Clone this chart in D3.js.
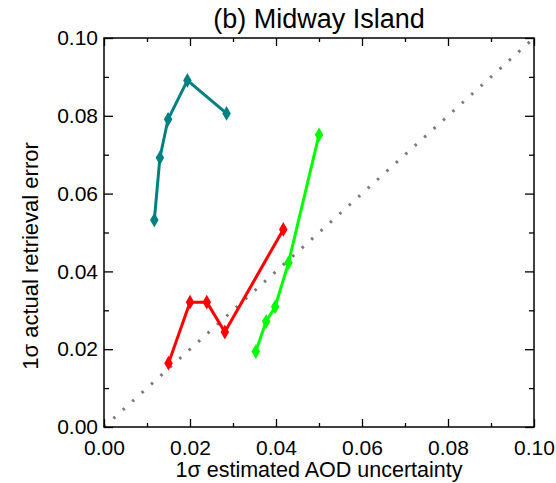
<!DOCTYPE html>
<html><head><meta charset="utf-8">
<script src="https://cdn.jsdelivr.net/npm/d3@7"></script>
<style>body{margin:0;background:#fff}svg{display:block}text{font-family:"Liberation Sans",Arial,sans-serif;fill:#000}</style>
</head><body>
<svg id="c" width="556" height="483"></svg>
<script>
const tealX = [0.0117, 0.0130, 0.0149, 0.0194, 0.0285];
const tealY = [0.0532, 0.0692, 0.0791, 0.0891, 0.0806];
const redX = [0.0150, 0.0200, 0.0239, 0.0281, 0.0417];
const redY = [0.0164, 0.0321, 0.0321, 0.0244, 0.0508];
const greenX = [0.0353, 0.0377, 0.0398, 0.0429, 0.0500];
const greenY = [0.0194, 0.0271, 0.0309, 0.0422, 0.0751];
const majorTicks = [0, 0.02, 0.04, 0.06, 0.08, 0.10];
const minorTicks = [0.01, 0.03, 0.05, 0.07, 0.09];
const title = "(b) Midway Island";
const xLabel = "1σ estimated AOD uncertainty";
const yLabel = "1σ actual retrieval error";

(function(){
const svg = d3.select("#c");
const L = 104, R = 534, T = 38, B = 427;
const x = d3.scaleLinear().domain([0, 0.1]).range([L, R]);
const y = d3.scaleLinear().domain([0, 0.1]).range([B, T]);
const fmt = d3.format(".2f");

// diagonal 1:1 line
svg.append("line").attr("x1", x(0)).attr("y1", y(0)).attr("x2", x(0.1)).attr("y2", y(0.1))
  .attr("stroke", "#7a7a7a").attr("stroke-width", 3).attr("stroke-dasharray", "2.5 10.2");

// axes
const axBottom = d3.axisBottom(x).tickValues(majorTicks).tickSize(-8).tickFormat(fmt).tickPadding(13);
const axBottomMinor = d3.axisBottom(x).tickValues(minorTicks).tickSize(-4).tickFormat("");
const axTop = d3.axisTop(x).tickValues(majorTicks).tickSize(-8).tickFormat("");
const axTopMinor = d3.axisTop(x).tickValues(minorTicks).tickSize(-4).tickFormat("");
const axLeft = d3.axisLeft(y).tickValues(majorTicks).tickSize(-9).tickFormat(fmt).tickPadding(6);
const axLeftMinor = d3.axisLeft(y).tickValues(minorTicks).tickSize(-5).tickFormat("");
const axRight = d3.axisRight(y).tickValues(majorTicks).tickSize(-9).tickFormat("");
const axRightMinor = d3.axisRight(y).tickValues(minorTicks).tickSize(-5).tickFormat("");

function styleAxis(g){
  g.select(".domain").remove();
  g.selectAll("line").attr("stroke", "#000").attr("stroke-width", 1.3);
  g.selectAll("text").attr("font-size", 21).attr("fill", "#000").style("font-family", '"Liberation Sans",Arial,sans-serif');
}
svg.append("g").attr("transform", `translate(0,${B})`).call(axBottom).call(styleAxis);
svg.append("g").attr("transform", `translate(0,${B})`).call(axBottomMinor).call(styleAxis);
svg.append("g").attr("transform", `translate(0,${T})`).call(axTop).call(styleAxis);
svg.append("g").attr("transform", `translate(0,${T})`).call(axTopMinor).call(styleAxis);
svg.append("g").attr("transform", `translate(${L},0)`).call(axLeft).call(styleAxis);
svg.append("g").attr("transform", `translate(${L},0)`).call(axLeftMinor).call(styleAxis);
svg.append("g").attr("transform", `translate(${R},0)`).call(axRight).call(styleAxis);
svg.append("g").attr("transform", `translate(${R},0)`).call(axRightMinor).call(styleAxis);

svg.append("rect").attr("x", L).attr("y", T).attr("width", R - L).attr("height", B - T)
  .attr("fill", "none").attr("stroke", "#000").attr("stroke-width", 1.5);

// series
const series = [
  {xs: tealX, ys: tealY, color: "#008080"},
  {xs: redX, ys: redY, color: "#ff0000"},
  {xs: greenX, ys: greenY, color: "#00ff00"}
];
const line = d3.line().x(d => x(d[0])).y(d => y(d[1]));
const diamond = d3.symbol().type(d3.symbolDiamond).size(40);
series.forEach(s => {
  const pts = s.xs.map((v, i) => [v, s.ys[i]]);
  svg.append("path").datum(pts).attr("d", line).attr("fill", "none")
    .attr("stroke", s.color).attr("stroke-width", 3).attr("stroke-linejoin", "round");
  svg.append("g").selectAll("path").data(pts).join("path")
    .attr("transform", d => `translate(${x(d[0])},${y(d[1])})`)
    .attr("d", diamond).attr("fill", s.color).attr("stroke", s.color).attr("stroke-width", 1.5);
});

// labels
svg.append("text").attr("x", (L + R) / 2).attr("y", 28).attr("text-anchor", "middle")
  .attr("font-size", 27).text(title);
svg.append("text").attr("x", (L + R) / 2).attr("y", 477).attr("text-anchor", "middle")
  .attr("font-size", 21.5).text(xLabel);
svg.append("text").attr("transform", "translate(38,256) rotate(-90)").attr("text-anchor", "middle")
  .attr("font-size", 22).text(yLabel);
})();
</script>
</body></html>
